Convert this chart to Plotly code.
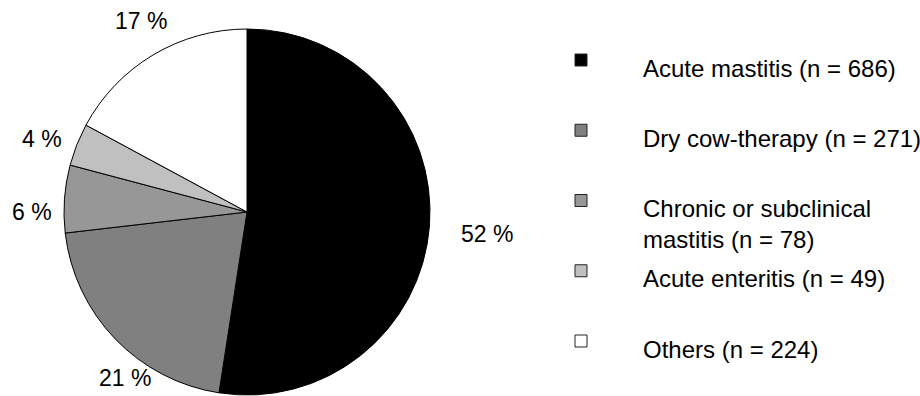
import plotly.graph_objects as go

categories = ["Acute mastitis", "Dry cow-therapy", "Chronic or subclinical<br>mastitis", "Acute enteritis", "Others"]
counts = [686, 271, 78, 49, 224]
colors = ["#000000", "#808080", "#979797", "#c0c0c0", "#ffffff"]

W, H = 920, 396
FONT = "Liberation Sans, Arial, sans-serif"
FS_LABEL = 23
FS_LEGEND = 24

total = sum(counts)
pcts = [round(v / total * 100) for v in counts]

fig = go.Figure()

# Pie
cx, cy, r = 247, 212, 183
fig.add_trace(go.Pie(
    values=counts,
    labels=[c.replace("<br>", " ") for c in categories],
    marker=dict(colors=colors, line=dict(color="#000000", width=1)),
    sort=False,
    direction="clockwise",
    rotation=0,
    textinfo="none",
    hoverinfo="label+value+percent",
    domain=dict(x=[(cx - r) / W, (cx + r) / W], y=[(H - cy - r) / H, (H - cy + r) / H]),
    showlegend=False,
))

# Percentage labels (positions in pixels)
label_pos = [(487, 234), (125, 378), (32, 212), (42, 139), (141, 21)]
for p, (px, py) in zip(pcts, label_pos):
    fig.add_annotation(
        x=px / W, y=1 - py / H, xref="paper", yref="paper",
        text=f"{p} %", showarrow=False, xanchor="center", yanchor="middle",
        font=dict(family=FONT, size=FS_LABEL, color="#000000"),
    )

# Legend drawn as a scatter on hidden axes: rows by category index
row_top, row_step = 60, 70.25
idx = list(range(len(categories)))
fig.add_trace(go.Scatter(
    x=[0] * len(categories), y=idx, mode="markers",
    marker=dict(symbol="square", size=12, color=colors, line=dict(color="#222222", width=1)),
    hoverinfo="skip", showlegend=False, xaxis="x", yaxis="y",
))
mx = 581
fig.update_layout(
    xaxis=dict(range=[-mx, W - mx], domain=[0, 1], visible=False, fixedrange=True),
    yaxis=dict(range=[(H - row_top) / row_step, -row_top / row_step], domain=[0, 1], visible=False, fixedrange=True),
)
line_h = 31
for i, c in enumerate(categories):
    n_lines = c.count("<br>") + 1
    fig.add_annotation(
        x=0, y=i, xref="x", yref="y",
        text=f"{c} (n = {counts[i]})", showarrow=False, align="left",
        xanchor="left", yanchor="middle", xshift=642 - mx - 1,
        yshift=-8 - (n_lines - 1) * line_h / 2,
        font=dict(family=FONT, size=FS_LEGEND, color="#000000"),
    )

fig.update_layout(
    width=W, height=H,
    margin=dict(l=0, r=0, t=0, b=0),
    paper_bgcolor="#ffffff", plot_bgcolor="rgba(0,0,0,0)",
    showlegend=False,
)

fig.write_html("out.html")
